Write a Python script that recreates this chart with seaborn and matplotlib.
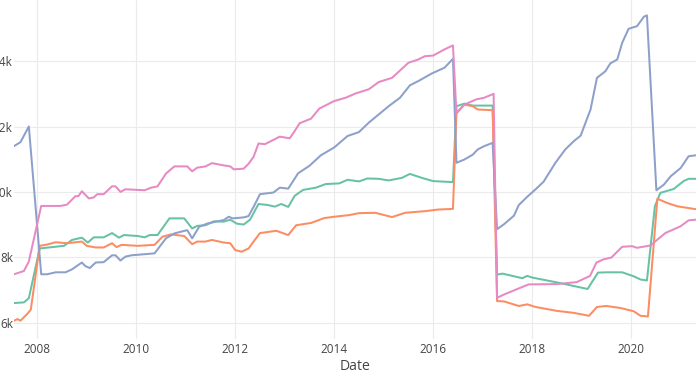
import numpy as np
import pandas as pd
import matplotlib
matplotlib.use("Agg")
import matplotlib.pyplot as plt
import matplotlib.dates as mdates
from matplotlib.ticker import FuncFormatter
import seaborn as sns

# ---------------- data (decimal years, values) ----------------
series_names = ["Series 1", "Series 2", "Series 3", "Series 4"]
colors = ["#66c2a5", "#fc8d62", "#8da0cb", "#e78ac3"]

s1_x = [2007.53, 2007.73, 2007.83, 2008.05, 2008.54, 2008.70, 2008.90, 2009.02, 2009.14, 2009.34,
        2009.51, 2009.65, 2009.75, 2010.03, 2010.17, 2010.27, 2010.43, 2010.67, 2010.97, 2011.13,
        2011.23, 2011.40, 2011.57, 2011.77, 2011.90, 2012.03, 2012.17, 2012.30, 2012.47, 2012.65,
        2012.80, 2012.93, 2013.07, 2013.20, 2013.37, 2013.63, 2013.83, 2014.10, 2014.27, 2014.50,
        2014.67, 2014.90, 2015.10, 2015.37, 2015.53, 2015.77, 2016.00, 2016.40, 2016.47, 2016.63,
        2016.80, 2017.20, 2017.29, 2017.40, 2017.60, 2017.80, 2017.90, 2018.00, 2018.57, 2019.12,
        2019.33, 2019.50, 2019.82, 2020.05, 2020.19, 2020.32, 2020.48, 2020.59, 2020.86, 2021.06,
        2021.16, 2021.31]
s1_y = [6600, 6620, 6750, 8270, 8350, 8530, 8600, 8450, 8610, 8610,
        8740, 8600, 8680, 8650, 8610, 8680, 8680, 9190, 9190, 8880,
        8960, 8980, 9100, 9090, 9150, 9030, 9000, 9150, 9630, 9600,
        9550, 9630, 9540, 9880, 10060, 10130, 10240, 10260, 10370, 10320,
        10410, 10400, 10350, 10430, 10550, 10430, 10330, 10300, 12620, 12700,
        12640, 12640, 7470, 7500, 7430, 7360, 7430, 7380, 7210, 7030,
        7530, 7540, 7540, 7420, 7320, 7290, 9560, 9970, 10090, 10330,
        10400, 10400]

s2_x = [2007.53, 2007.60, 2007.66, 2007.80, 2007.87, 2008.05, 2008.20, 2008.37, 2008.60, 2008.90,
        2009.00, 2009.18, 2009.34, 2009.51, 2009.60, 2009.70, 2010.03, 2010.37, 2010.53, 2010.70,
        2010.97, 2011.13, 2011.23, 2011.40, 2011.53, 2011.77, 2011.90, 2012.00, 2012.13, 2012.27,
        2012.37, 2012.50, 2012.83, 2013.07, 2013.23, 2013.53, 2013.80, 2014.00, 2014.30, 2014.50,
        2014.83, 2015.17, 2015.43, 2015.83, 2016.10, 2016.40, 2016.47, 2016.63, 2016.80, 2016.90,
        2017.20, 2017.29, 2017.43, 2017.73, 2017.90, 2018.07, 2018.50, 2018.84, 2019.15, 2019.31,
        2019.50, 2019.78, 2020.05, 2020.19, 2020.34, 2020.53, 2020.73, 2020.93, 2021.31]
s2_y = [6060, 6110, 6060, 6270, 6400, 8350, 8390, 8460, 8430, 8480,
        8350, 8300, 8300, 8430, 8310, 8380, 8350, 8380, 8630, 8700,
        8650, 8400, 8480, 8480, 8530, 8450, 8430, 8220, 8170, 8270,
        8480, 8740, 8810, 8680, 8980, 9050, 9200, 9240, 9290, 9350,
        9360, 9230, 9360, 9410, 9460, 9480, 12420, 12670, 12620, 12520,
        12500, 6660, 6650, 6510, 6560, 6480, 6360, 6300, 6210, 6480,
        6510, 6450, 6350, 6210, 6190, 9790, 9660, 9560, 9470]

s3_x = [2007.53, 2007.66, 2007.83, 2008.08, 2008.20, 2008.37, 2008.57, 2008.70, 2008.90, 2008.97,
        2009.06, 2009.18, 2009.34, 2009.51, 2009.58, 2009.68, 2009.78, 2009.90, 2010.37, 2010.60,
        2010.77, 2011.03, 2011.13, 2011.27, 2011.43, 2011.77, 2011.87, 2011.95, 2012.17, 2012.27,
        2012.37, 2012.50, 2012.77, 2012.90, 2013.07, 2013.27, 2013.50, 2013.73, 2014.00, 2014.27,
        2014.50, 2014.70, 2014.90, 2015.10, 2015.33, 2015.53, 2015.70, 2015.97, 2016.23, 2016.40,
        2016.47, 2016.63, 2016.80, 2016.90, 2017.03, 2017.20, 2017.29, 2017.43, 2017.63, 2017.73,
        2017.90, 2018.07, 2018.23, 2018.47, 2018.67, 2018.84, 2018.98, 2019.18, 2019.31, 2019.48,
        2019.58, 2019.72, 2019.82, 2019.95, 2020.12, 2020.26, 2020.32, 2020.51, 2020.66, 2020.80,
        2021.00, 2021.16, 2021.31]
s3_y = [11400, 11520, 12000, 7480, 7480, 7540, 7540, 7630, 7840, 7730,
        7670, 7840, 7850, 8060, 8060, 7900, 8020, 8060, 8120, 8580,
        8730, 8830, 8580, 8930, 9030, 9140, 9240, 9190, 9220, 9260,
        9540, 9930, 9980, 10130, 10100, 10570, 10800, 11120, 11360, 11710,
        11830, 12120, 12370, 12620, 12880, 13260, 13390, 13620, 13800, 14070,
        10890, 10990, 11140, 11300, 11400, 11500, 8860, 9010, 9270, 9600,
        9850, 10080, 10310, 10890, 11300, 11550, 11720, 12520, 13490, 13690,
        13930, 14050, 14560, 14990, 15070, 15360, 15400, 10050, 10220, 10480,
        10730, 11090, 11120]

s4_x = [2007.53, 2007.73, 2007.83, 2008.08, 2008.47, 2008.60, 2008.77, 2008.83, 2008.90, 2009.04,
        2009.14, 2009.21, 2009.34, 2009.51, 2009.58, 2009.68, 2009.78, 2010.17, 2010.30, 2010.43,
        2010.60, 2010.77, 2011.03, 2011.13, 2011.23, 2011.40, 2011.53, 2011.77, 2011.90, 2011.97,
        2012.17, 2012.27, 2012.37, 2012.47, 2012.60, 2012.90, 2013.10, 2013.20, 2013.30, 2013.53,
        2013.70, 2014.00, 2014.23, 2014.43, 2014.70, 2014.90, 2015.17, 2015.50, 2015.70, 2015.83,
        2016.00, 2016.23, 2016.40, 2016.47, 2016.63, 2016.87, 2017.03, 2017.22, 2017.29, 2017.43,
        2017.70, 2017.93, 2018.50, 2018.90, 2019.17, 2019.30, 2019.45, 2019.60, 2019.82, 2020.02,
        2020.12, 2020.39, 2020.69, 2021.00, 2021.16, 2021.31]
s4_y = [7480, 7580, 7870, 9570, 9570, 9610, 9870, 9870, 10020, 9800,
        9830, 9930, 9930, 10170, 10170, 10000, 10080, 10050, 10130, 10170,
        10560, 10780, 10780, 10630, 10740, 10780, 10880, 10810, 10780, 10690,
        10710, 10860, 11070, 11480, 11460, 11690, 11640, 11860, 12100, 12240,
        12550, 12780, 12880, 13010, 13140, 13360, 13490, 13950, 14050, 14150,
        14170, 14360, 14480, 12400, 12670, 12830, 12880, 13000, 6760, 6860,
        7030, 7170, 7180, 7240, 7430, 7840, 7940, 7990, 8320, 8340,
        8290, 8360, 8740, 8950, 9130, 9150]

x_tick_years = [2008, 2010, 2012, 2014, 2016, 2018, 2020]
y_ticks = [6000, 8000, 10000, 12000, 14000]
x_title = "Date"


def to_date(y):
    year = int(np.floor(y))
    start = pd.Timestamp(year=year, month=1, day=1)
    end = pd.Timestamp(year=year + 1, month=1, day=1)
    return start + (end - start) * (y - year)


frames = []
for name, xs, ys in zip(series_names, [s1_x, s2_x, s3_x, s4_x], [s1_y, s2_y, s3_y, s4_y]):
    frames.append(pd.DataFrame({"Date": [to_date(v) for v in xs], "value": ys, "variable": name}))
df = pd.concat(frames, ignore_index=True)

# ---------------- figure ----------------
sns.set_theme(style="white")
plt.rcParams["font.family"] = ["Open Sans", "DejaVu Sans"]

W, H = 696, 385
fig = plt.figure(figsize=(W / 100, H / 100), dpi=100)
left, bottom_px, top_px = 14, 339, 0
ax = fig.add_axes([left / W, (H - bottom_px) / H, (W - left) / W, (bottom_px - top_px) / H])

sns.lineplot(data=df, x="Date", y="value", hue="variable", hue_order=series_names,
             palette=colors, estimator=None, sort=False, linewidth=1.45,
             legend=False, ax=ax)

ax.set_xlim(df["Date"].min(), df["Date"].max())
ax.set_ylim(5500, 15870)

ax.set_xticks([pd.Timestamp(year=y, month=1, day=1) for y in x_tick_years])
ax.xaxis.set_major_formatter(mdates.DateFormatter("%Y"))
ax.set_yticks(y_ticks)
ax.yaxis.set_major_formatter(FuncFormatter(lambda v, p: f"{v/1000:.0f}k"))

ax.grid(True, color="#ebebeb", linewidth=0.8)
ax.set_axisbelow(True)
for s in ax.spines.values():
    s.set_visible(False)

txt = "#444444"
ax.tick_params(axis="both", length=0, labelsize=8.5, labelcolor=txt)
ax.tick_params(axis="x", pad=3)
ax.tick_params(axis="y", pad=0.8)
ax.set_xlabel(x_title, fontsize=10.08, color=txt, labelpad=2)
ax.set_ylabel("")

fig.savefig("out.png", dpi=100)
